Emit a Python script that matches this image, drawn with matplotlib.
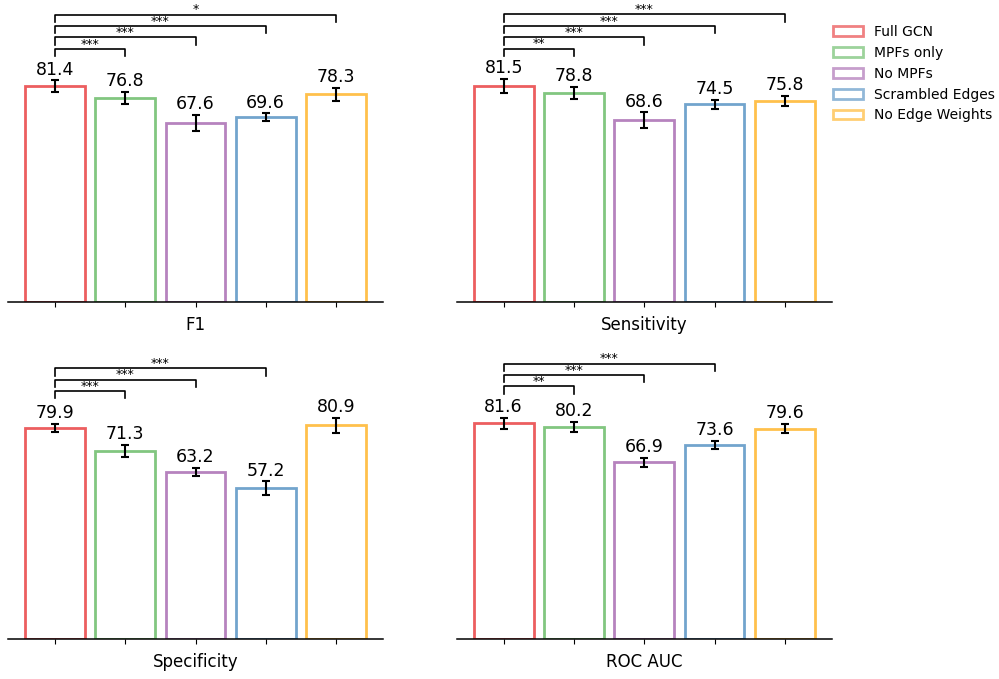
import matplotlib
matplotlib.use("Agg")
import matplotlib.pyplot as plt
from matplotlib.patches import Patch
import numpy as np

models = ["Full GCN", "MPFs only", "No MPFs", "Scrambled Edges", "No Edge Weights"]
colors = ["#e41a1c", "#4daf4a", "#984ea3", "#377eb8", "#ffa600"]

metrics = ["F1", "Sensitivity", "Specificity", "ROC AUC"]
f1_vals = [81.4, 76.8, 67.6, 69.6, 78.3]
f1_err = [2.1, 2.3, 3.0, 1.45, 2.5]
sens_vals = [81.5, 78.8, 68.6, 74.5, 75.8]
sens_err = [2.6, 2.3, 2.9, 1.6, 1.8]
spec_vals = [79.9, 71.3, 63.2, 57.2, 80.9]
spec_err = [1.5, 2.3, 1.6, 2.5, 2.8]
roc_vals = [81.6, 80.2, 66.9, 73.6, 79.6]
roc_err = [2.1, 2.0, 1.6, 1.5, 1.8]

# significance vs Full GCN: (target index, stars)
f1_sig = [(1, "***"), (2, "***"), (3, "***"), (4, "*")]
sens_sig = [(1, "**"), (2, "***"), (3, "***"), (4, "***")]
spec_sig = [(1, "***"), (2, "***"), (3, "***")]
roc_sig = [(1, "**"), (2, "***"), (3, "***")]

all_vals = [f1_vals, sens_vals, spec_vals, roc_vals]
all_errs = [f1_err, sens_err, spec_err, roc_err]
all_sigs = [f1_sig, sens_sig, spec_sig, roc_sig]

fig = plt.figure(figsize=(9.99, 6.79), dpi=100)
positions = [
    [0.0083, 0.5552, 0.3748, 0.3909],
    [0.4572, 0.5552, 0.3754, 0.3909],
    [0.0083, 0.0585, 0.3748, 0.3896],
    [0.4572, 0.0585, 0.3754, 0.3896],
]

x = np.arange(len(models))
for k, metric in enumerate(metrics):
    ax = fig.add_axes(positions[k])
    vals = all_vals[k]
    errs = all_errs[k]
    ax.bar(x, vals, width=0.85, facecolor="white",
           edgecolor=[matplotlib.colors.to_rgba(c, 0.7) for c in colors],
           linewidth=2.0, zorder=2)
    ax.errorbar(x, vals, yerr=errs, fmt="none", ecolor="black", elinewidth=1.5,
                capsize=3, capthick=1.5, zorder=3)
    for xi, v, e in zip(x, vals, errs):
        ax.text(xi, v + e + 0.6, f"{v:.1f}", ha="center", va="bottom", fontsize=12.5)
    base = max(vals[:2]) + 14
    step = 4.3
    drop = 2.8
    for lvl, (j, stars) in enumerate(all_sigs[k]):
        y = base + lvl * step
        ax.plot([0, 0, j, j], [y - drop, y, y, y - drop], color="black", lw=1.2,
                clip_on=False, zorder=4)
        ax.text(j / 2, y - 0.7, stars, ha="center", va="bottom", fontsize=9)
    ax.set_ylim(0, 100)
    ax.set_xticks(x)
    ax.set_xticklabels([])
    ax.set_yticks([])
    for s in ["top", "right", "left"]:
        ax.spines[s].set_visible(False)
    ax.spines["bottom"].set_linewidth(1.1)
    ax.set_xlabel(metric, fontsize=12, labelpad=3)

handles = [Patch(facecolor="white", edgecolor=matplotlib.colors.to_rgba(c, 0.55), linewidth=2.0)
           for c in colors]
fig.legend(handles, models, loc="upper left", bbox_to_anchor=(0.821, 0.982),
           frameon=False, fontsize=10, handlelength=2.2)

fig.savefig("out.png", dpi=100)
